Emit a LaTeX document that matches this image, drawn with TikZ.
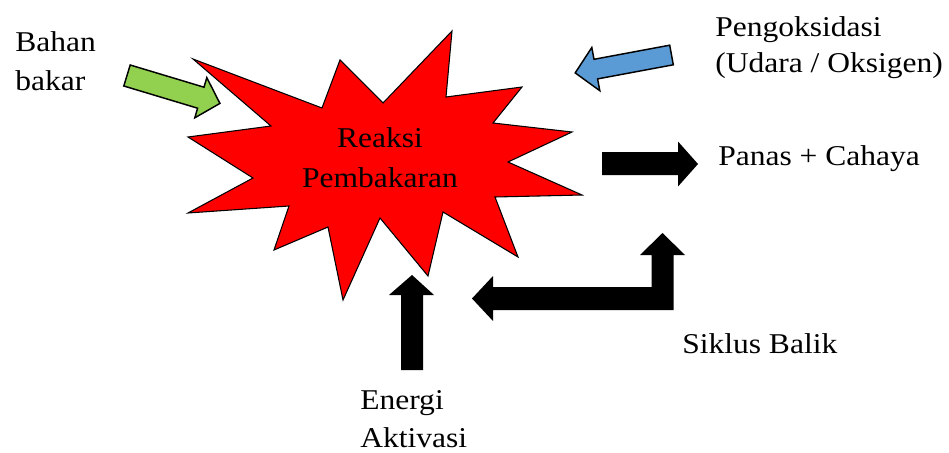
\documentclass[tikz,border=0pt]{standalone}
\usepackage{fontspec}
\setmainfont{Liberation Serif}[FakeStretch=1.1]
\definecolor{fuelgreen}{HTML}{92D050}
\definecolor{oxblue}{HTML}{5B9BD5}
\definecolor{flamered}{HTML}{FF0000}
\tikzset{
  txt/.style={align=left,anchor=base west,inner sep=0pt,font=\fontsize{21.5}{28.5}\selectfont},
  blockarrow/.style={draw=black,line width=1.1pt,line join=miter}
}
\begin{document}
\begin{tikzpicture}[x=0.75pt,y=-0.75pt]
\useasboundingbox (0,0) rectangle (949,453);
% ledakan
\draw[fill=flamered,line width=0.8pt] (193,59) -- (322,108) -- (340,60) -- (383,103) -- (452,31) -- (446,97) -- (522,87) -- (493,123) -- (572,132) -- (508,162) -- (582,195) -- (495,197) -- (518,257) -- (443,212) -- (428,276) -- (380,218) -- (343,300) -- (328,227) -- (274,250) -- (289,206) -- (188,213) -- (253,178) -- (188,137) -- (271,126) -- cycle;
% base = baseline of the last line
\node[align=center,anchor=base,inner sep=0pt,font=\fontsize{21.5}{30}\selectfont] (reaksi) at (380,187) {Reaksi\\Pembakaran};

\node[txt] (bahan) at (15,90) {Bahan\\bakar};
\node[txt,font=\fontsize{21.5}{27}\selectfont] (oksidasi) at (715,73) {Pengoksidasi\\(Udara / Oksigen)};
\node[txt] (panas) at (718,165) {Panas + Cahaya};
\node[txt] (siklus) at (682,353) {Siklus Balik};
\node[txt] (energi) at (360,447) {Energi\\Aktivasi};

% panah blok
\draw[blockarrow,fill=fuelgreen] (130.2,65) -- (204,87.2) -- (206.8,77.6) -- (219.9,103.4) -- (194.8,117.8) -- (197.6,108.2) -- (123.8,86) -- cycle;
\draw[blockarrow,fill=oxblue] (669.7,45.2) -- (594,59.3) -- (591.8,47.5) -- (575.2,72.9) -- (599.8,90.7) -- (597.6,78.9) -- (673.3,64.8) -- cycle;
\fill (602,152) -- (678,152) -- (678,141.5) -- (698,164) -- (678,186.5) -- (678,175) -- (602,175) -- cycle;
\fill (401,370) -- (401,295) -- (389,295) -- (412,275) -- (434,295) -- (423,295) -- (423,370) -- cycle;
\fill (472,298.5) -- (493,276) -- (493,287) -- (651.5,287) -- (651.5,255) -- (640,255) -- (662.5,233) -- (685,255) -- (673.5,255) -- (673.5,310) -- (493,310) -- (493,321) -- cycle;
\end{tikzpicture}
\end{document}
